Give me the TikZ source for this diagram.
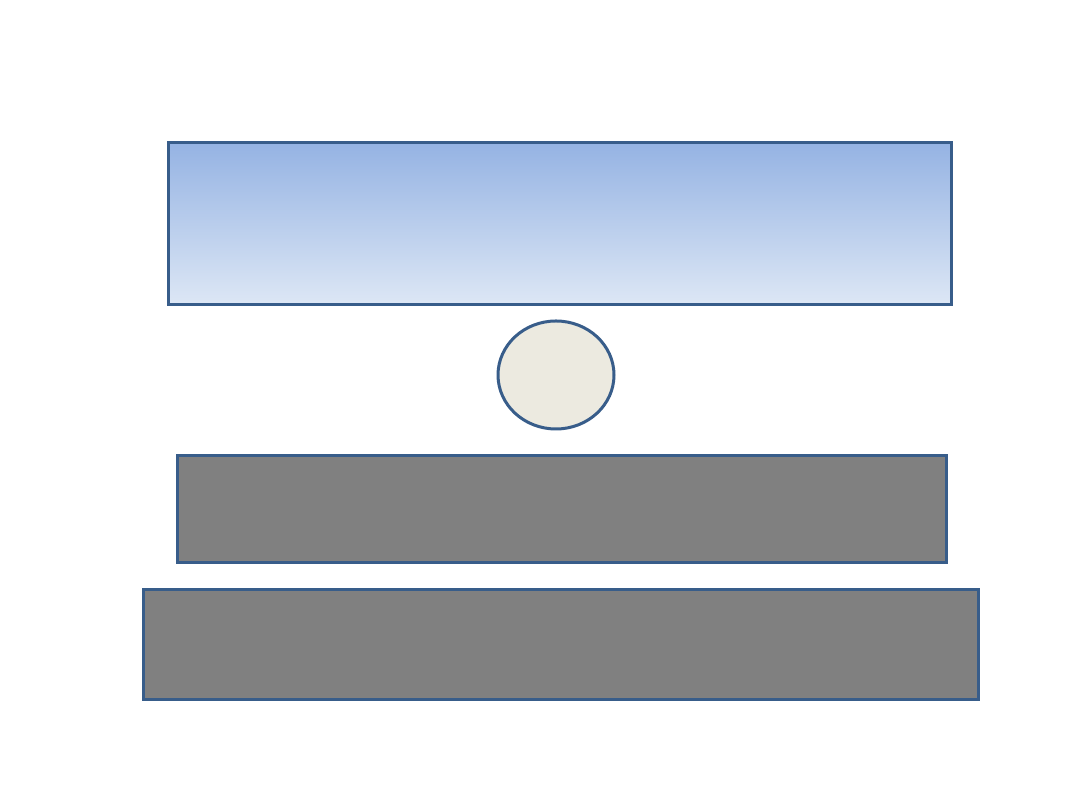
\documentclass[tikz,border=0pt]{standalone}
\usepackage{tikz}
\usetikzlibrary{shapes.geometric}
\definecolor{edgeblue}{RGB}{56,93,138}
\definecolor{gradtop}{RGB}{149,179,227}
\definecolor{gradbot}{RGB}{221,231,245}
\definecolor{discfill}{RGB}{236,234,224}
\definecolor{boxgray}{RGB}{128,128,128}
\tikzset{
  panel/.style={draw=edgeblue, line width=3pt, rectangle, inner sep=0pt},
  skybox/.style={panel, top color=gradtop, bottom color=gradbot},
  graybox/.style={panel, fill=boxgray},
  disc/.style={draw=edgeblue, line width=3pt, ellipse, fill=discfill, inner sep=0pt}
}
\begin{document}
\begin{tikzpicture}[x=1pt,y=1pt]
\useasboundingbox[fill=white] (0,0) rectangle (1080,810);
\node[skybox, minimum width=783pt, minimum height=162pt] (top) at (559.5,586) {};
\node[disc, minimum width=116pt, minimum height=108pt] (mid) at (556,435) {};
\node[graybox, minimum width=769pt, minimum height=107pt] (g1) at (561.5,300.5) {};
\node[graybox, minimum width=835pt, minimum height=110pt] (g2) at (560.5,165) {};
\end{tikzpicture}
\end{document}
